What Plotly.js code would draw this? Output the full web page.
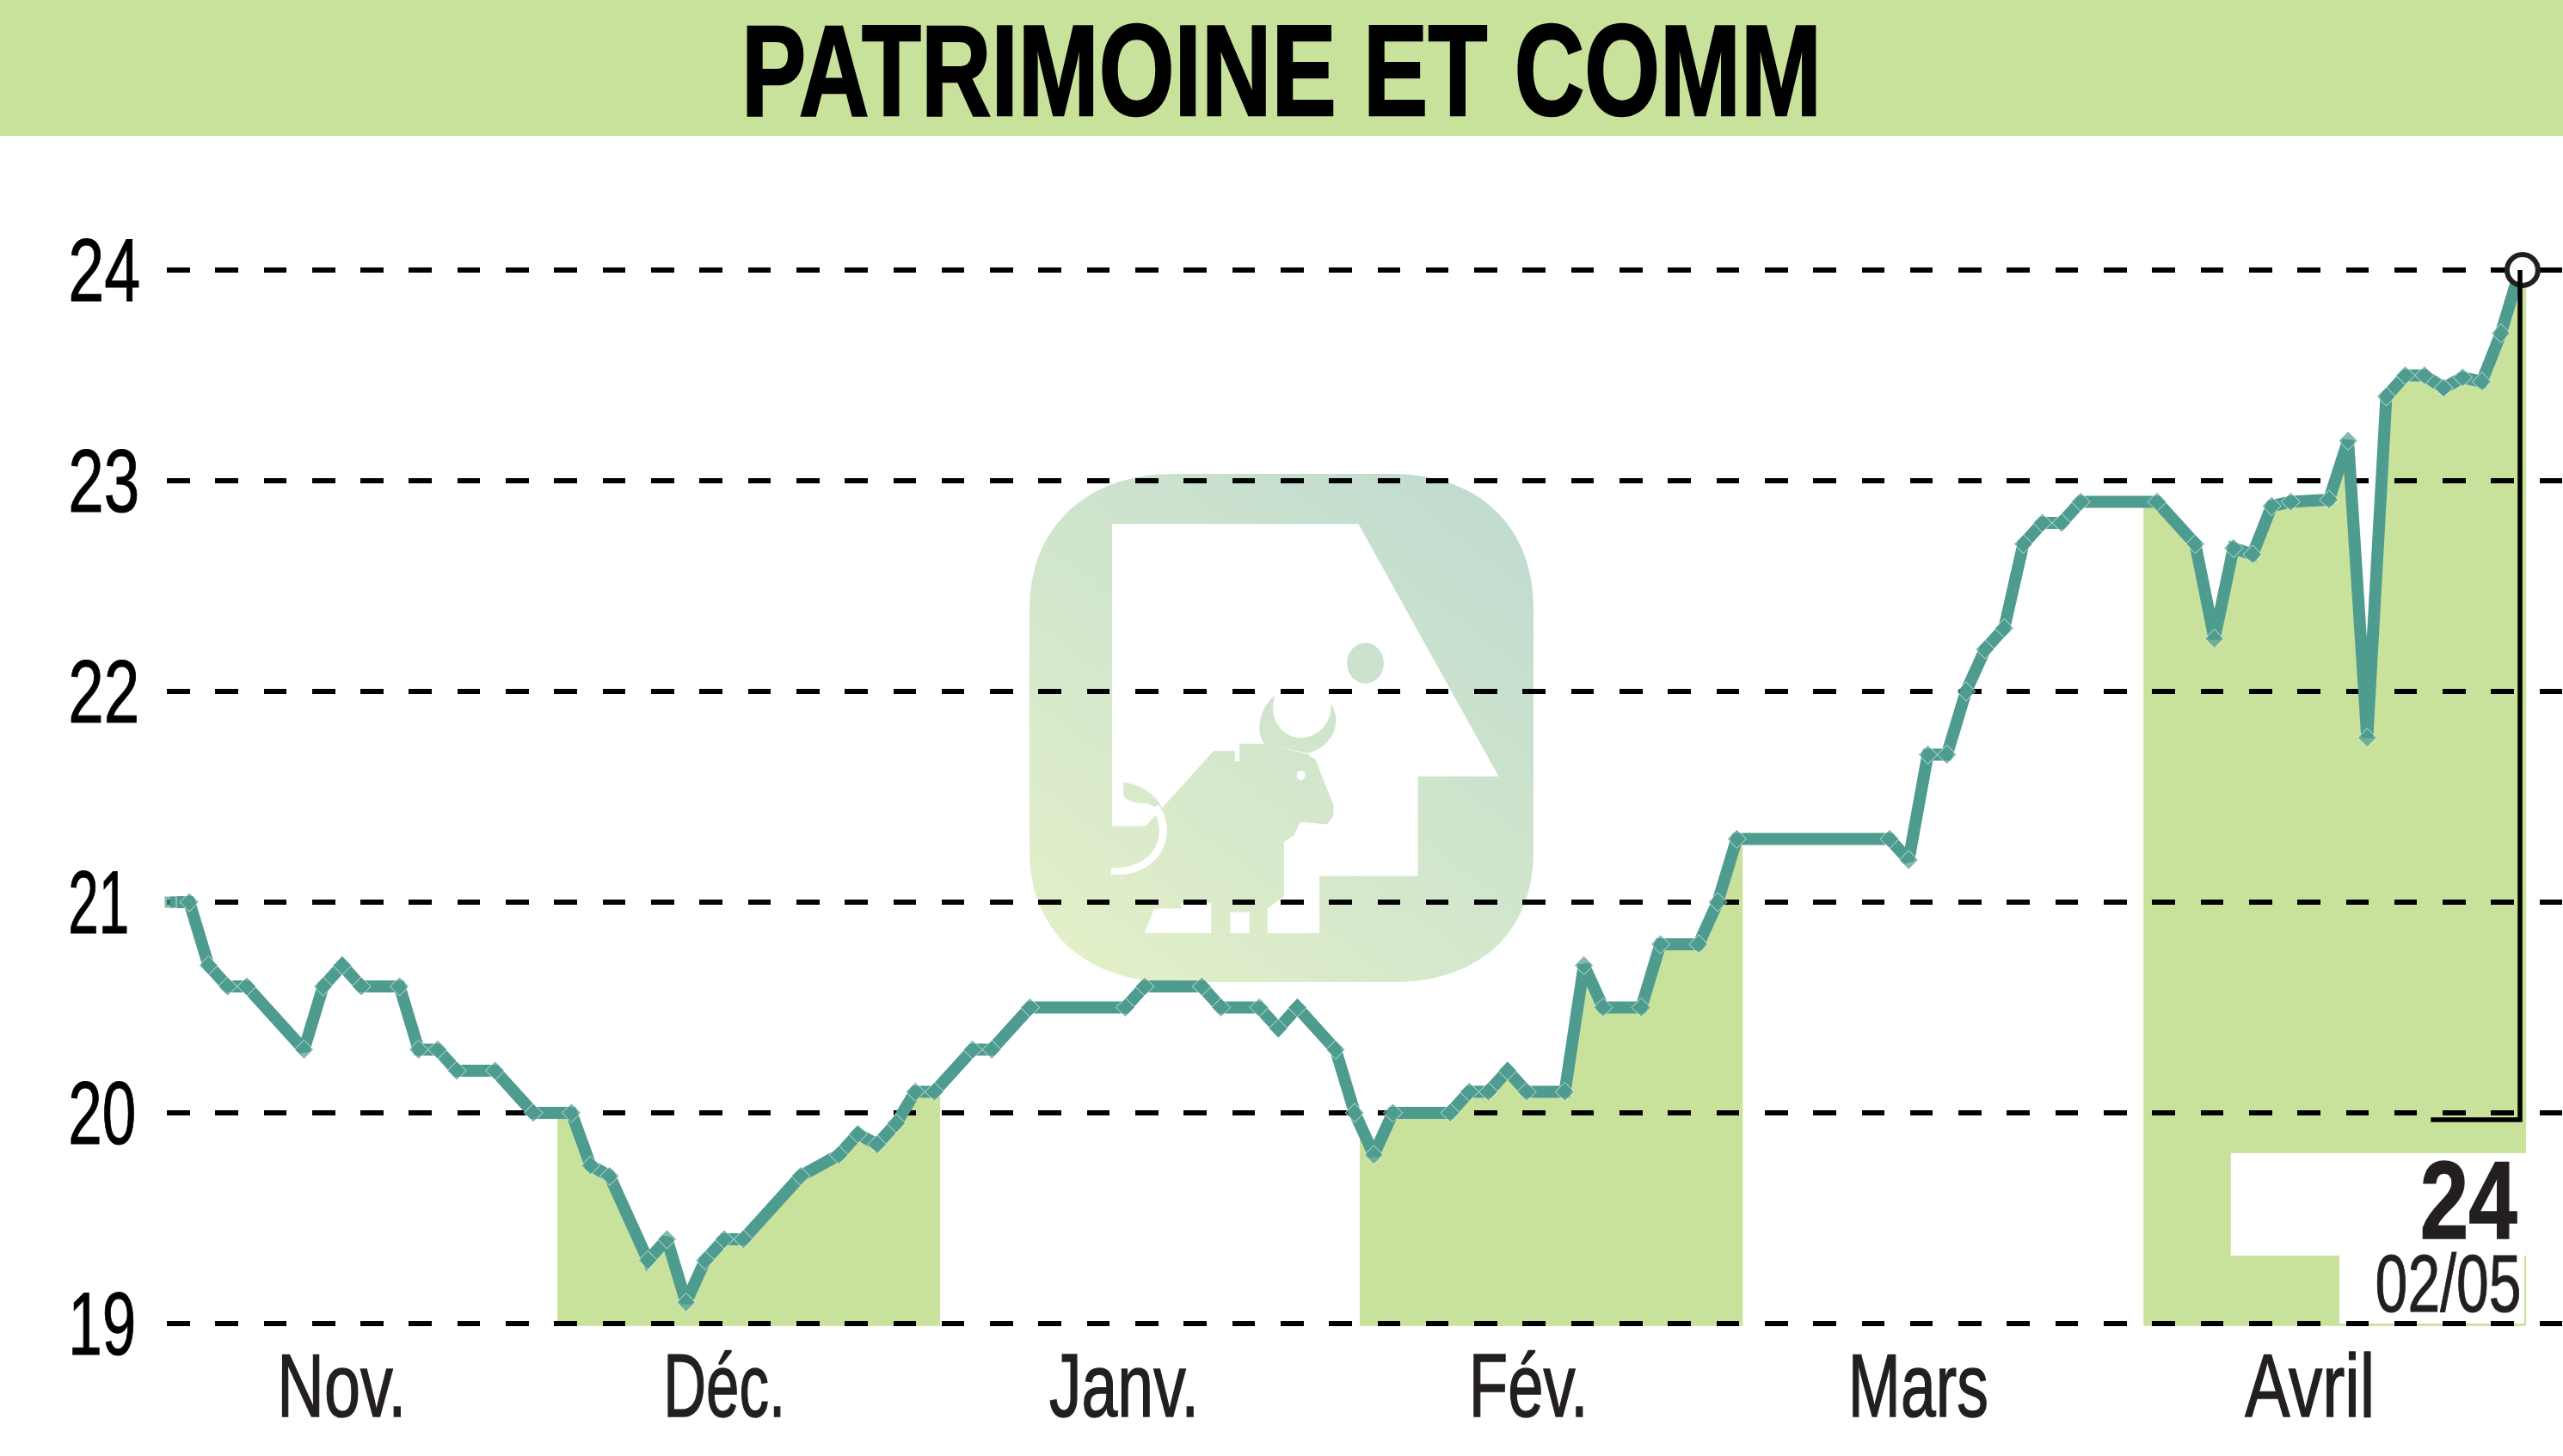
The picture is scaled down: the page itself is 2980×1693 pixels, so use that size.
<!DOCTYPE html>
<html>
<head>
<meta charset="utf-8">
<script src="https://cdn.plot.ly/plotly-3.0.1.min.js"></script>
<style>html,body{margin:0;padding:0;background:#fff}#chart{width:2980px;height:1693px}</style>
</head>
<body>
<div id="chart"></div>
<script>
// ---------- data ----------
const sessionValues = [
  21,21,20.7,20.6,20.6,20.5,20.4,20.3,20.6,20.7,
  20.6,20.6,20.6,20.3,20.3,20.2,20.2,20.2,20.1,20,
  20,20,19.75,19.7,19.5,19.3,19.4,19.1,19.3,19.4,
  19.4,19.5,19.6,19.7,19.75,19.8,19.9,19.85,19.95,20.1,
  20.1,20.2,20.3,20.3,20.4,20.5,20.5,20.5,20.5,20.5,
  20.5,20.6,20.6,20.6,20.6,20.5,20.5,20.5,20.4,20.5,
  20.4,20.3,20,19.8,20,20,20,20,20.1,20.1,
  20.2,20.1,20.1,20.1,20.7,20.5,20.5,20.5,20.8,20.8,
  20.8,21,21.3,21.3,21.3,21.3,21.3,21.3,21.3,21.3,
  21.3,21.2,21.7,21.7,22,22.2,22.3,22.7,22.8,22.8,
  22.9,22.9,22.9,22.9,22.9,22.8,22.7,22.25,22.68,22.65,
  22.88,22.9,22.9,22.91,23.19,21.78,23.4,23.5,23.5,23.44,
  23.49,23.47,23.7,24
];
const monthLabels = ["Nov.","Déc.","Janv.","Fév.","Mars","Avril"];
const monthCentres = [8.97,29.0,49.93,71.1,91.5,112];
const shadedMonths = [[20.26,40.3],[62.27,82.31],[103.29,123.32]];
const priceTicks = [19,20,21,22,23,24];
const titleText = "PATRIMOINE ET COMM";
const lastValueText = "24";
const lastDateText = "02/05";

// ---------- styles ----------
const GREEN = "#C8E29C", TEAL = "#4E9C90", INK = "#231F20";
const FONT = "'Liberation Sans',sans-serif";
const W = 2980, H = 1693;
const M = {l:194, r:0, t:180, b:H-1560};
const X0 = -0.18, X1 = 125.25, Y0 = 18.914, Y1 = 24.547;
const lastIdx = sessionValues.length-1;
const days = sessionValues.map((_,i)=>i);
// fitted text widths in the condensed face of the original
const FIT = {"Nov.":150,"Déc.":142,"Janv.":174,"Fév.":139,"Mars":163,"Avril":151,
             "19":79,"20":79,"21":71,"22":83,"23":83,"24":84};
const TICK_LEFT_OFFSET = 89;

function valueAt(x){
  if (x >= lastIdx) return sessionValues[lastIdx];
  const a = Math.floor(x), f = x-a;
  return sessionValues[a]*(1-f)+sessionValues[a+1]*f;
}
const FLOOR = 18.988;
function bandPath(b){
  let p = `M${b[0]},${FLOOR} L${b[0]},${valueAt(b[0])}`;
  for (let i=Math.ceil(b[0]); i<=Math.min(b[1],lastIdx); i++) p += ` L${i},${sessionValues[i]}`;
  p += ` L${b[1]},${valueAt(b[1])} L${b[1]},${FLOOR} Z`;
  return p;
}
// small vertex marks only where the line turns
const vertexSizes = sessionValues.map((v,i)=>{
  if (i===0) return 14;
  if (i===lastIdx) return 17;
  const d1 = v-sessionValues[i-1], d2 = sessionValues[i+1]-v;
  return Math.abs(d1-d2) > 0.011 ? 17 : 0;
});
const vertexSymbols = sessionValues.map((v,i)=> i===0 ? "square" : "diamond");

const logoSvg = `<svg xmlns="http://www.w3.org/2000/svg" viewBox="105 75 1313 1450" preserveAspectRatio="none" width="586" height="591">
<defs><linearGradient id="g" gradientUnits="userSpaceOnUse" x1="200" y1="1500" x2="1350" y2="150">
<stop offset="0" stop-color="#E3F0C8"/><stop offset="1" stop-color="#C0DBD0"/></linearGradient></defs>
<path fill="url(#g)" d="M480 75 L1050 75 C1280 75 1418 230 1418 460 L1418 1150 C1418 1380 1280 1525 1050 1525 L480 1525 C250 1525 105 1380 105 1150 L105 460 C105 230 250 75 480 75 Z"/>
<path fill="#fff" d="M320 218 L962 218 L1327 938 L1117 938 L1117 1222 L860 1222 L860 1385 L405 1385 L430 1250 L320 1080 Z"/>
<path fill="url(#g)" d="M320 1080 L408 1080 L585 865 L640 865 L640 895 L652 895 L652 845 L715 845 L830 875 L850 890 L897 1020 L897 1050 L880 1075 L810 1068 L795 1105 L768 1125 L768 1280 L725 1315 L725 1385 L678 1385 L678 1325 L628 1325 L628 1385 L578 1385 L578 1300 L500 1300 L500 1315 L430 1315 L405 1385 L320 1385 Z"/>
<path fill="url(#g)" d="M745 705 C690 760 700 830 720 848 L830 872 C900 850 920 780 890 730 C895 790 850 830 810 828 C760 825 725 770 745 705 Z"/>
<ellipse cx="980" cy="615" rx="48" ry="58" fill="url(#g)"/>
<ellipse cx="812" cy="935" rx="11" ry="14" fill="#fff"/>
<path fill="url(#g)" d="M350 955 C400 960 445 1000 452 1035 L412 1015 C385 1015 360 1010 350 995 Z"/>
<path fill="none" stroke="#fff" stroke-width="20" d="M318 1208 C400 1215 455 1160 453 1085 C451 1060 445 1040 432 1025"/>
</svg>`;

// ---------- traces ----------
const traces = [
  {type:"scatter", mode:"lines+markers", x:days, y:sessionValues, cliponaxis:false,
   line:{color:TEAL, width:14, shape:"linear"},
   marker:{color:TEAL, symbol:vertexSymbols, size:vertexSizes}, hoverinfo:"skip", showlegend:false},
  {type:"scatter", mode:"markers", x:[lastIdx+0.13], y:[sessionValues[lastIdx]], cliponaxis:false,
   marker:{color:"#fff", size:36, symbol:"circle", line:{color:INK, width:6}}, hoverinfo:"skip", showlegend:false}
];

const paperX = px => (px-M.l)/(W-M.l-M.r);
const paperY = py => (H-M.b-py)/(H-M.t-M.b);

const shapes = [
  {type:"rect", xref:"paper", yref:"paper", x0:paperX(0), x1:1, y0:paperY(158), y1:paperY(0),
   fillcolor:GREEN, line:{width:0}, layer:"below"},
  ...shadedMonths.map(b=>({type:"path", xref:"x", yref:"y", path:bandPath(b), fillcolor:GREEN, line:{width:0}, layer:"below"})),
  {type:"rect", xref:"x", yref:"y", x0:107.86, x1:123.33, y0:19.322, y1:19.809, fillcolor:"#fff", line:{width:0}, layer:"below"},
  {type:"rect", xref:"x", yref:"y", x0:113.55, x1:123.22, y0:19.0, y1:19.325, fillcolor:"#fff", line:{width:0}, layer:"below"},
  {type:"path", xref:"x", yref:"y", layer:"above",
   path:`M${lastIdx},${sessionValues[lastIdx]} L${lastIdx},19.967 L118.33,19.967`,
   line:{color:"#000", width:5.5}}
];

const annotations = [
  {xref:"x", yref:"y", x:120.3, y:19.287, text:lastValueText, showarrow:false, xanchor:"center", yanchor:"bottom",
   font:{family:FONT, size:128, color:INK, weight:700}},
  {xref:"x", yref:"y", x:119.25, y:18.967, text:lastDateText, showarrow:false, xanchor:"center", yanchor:"bottom",
   font:{family:FONT, size:94, color:INK}}
];

const layout = {
  width:W, height:H, margin:M, paper_bgcolor:"#fff", plot_bgcolor:"rgba(0,0,0,0)", showlegend:false,
  title:{text:titleText, x:0.5, xanchor:"center", y:0.9516, yanchor:"middle", yref:"container",
         font:{family:FONT, size:150, color:"#000", weight:700}},
  xaxis:{range:[X0,X1], tickmode:"array", tickvals:monthCentres, ticktext:monthLabels, showgrid:false,
         zeroline:false, showline:false, ticks:"outside", ticklen:2, tickcolor:"rgba(0,0,0,0)", ticklabelstandoff:-41,
         tickfont:{family:FONT, size:104, color:INK}},
  yaxis:{range:[Y0,Y1], tickmode:"array", tickvals:priceTicks, ticktext:priceTicks.map(String), showgrid:true,
         gridcolor:"#000", gridwidth:5.5, griddash:"26.6px,29.7px", zeroline:false, showline:false,
         ticks:"outside", ticklen:4, tickcolor:"rgba(0,0,0,0)", tickfont:{family:FONT, size:104, color:"#000"}},
  shapes, annotations,
  images:[{source:"data:image/svg+xml;charset=utf-8,"+encodeURIComponent(logoSvg), xref:"paper", yref:"paper",
           x:paperX(1197), y:paperY(551), sizex:586/(W-M.l-M.r), sizey:591/(H-M.t-M.b),
           xanchor:"left", yanchor:"top", sizing:"stretch", layer:"below"}]
};

function fit(el, width, stroke){
  el.setAttribute("textLength", width);
  el.setAttribute("lengthAdjust","spacingAndGlyphs");
  if (stroke){ el.style.stroke = el.style.fill; el.style.strokeWidth = stroke+"px"; }
}
Plotly.newPlot("chart", traces, layout, {staticPlot:true, displayModeBar:false}).then(()=>{
  document.querySelectorAll(".xtick text").forEach(t=>fit(t, FIT[t.textContent], 1.5));
  document.querySelectorAll(".ytick text").forEach(t=>{
    fit(t, FIT[t.textContent], 1);
    // price labels are left-aligned in the original
    const x = parseFloat(t.getAttribute("x"));
    t.setAttribute("x", x-TICK_LEFT_OFFSET);
    t.style.textAnchor = "start";
    t.setAttribute("text-anchor","start");
  });
  document.querySelectorAll(".gtitle").forEach(t=>fit(t, 1256, 2.5));
  document.querySelectorAll(".annotation-text").forEach(t=>{
    if (t.textContent===lastValueText) fit(t, 113, 1.5); else fit(t, 170, 1);
  });
});
</script>
</body>
</html>
